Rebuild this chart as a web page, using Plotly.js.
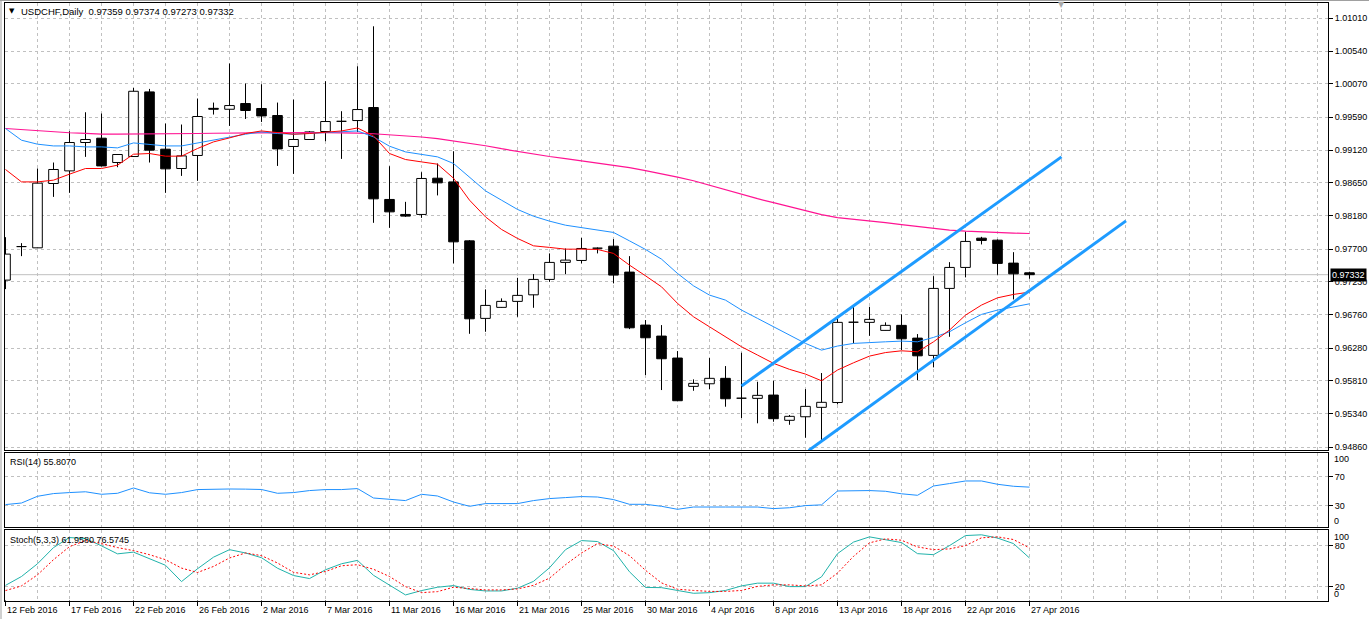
<!DOCTYPE html>
<html><head><meta charset="utf-8">
<script src="https://cdn.plot.ly/plotly-3.0.1.min.js"></script>
<style>html,body{margin:0;padding:0;background:#fff;}#chart{width:1369px;height:619px;}</style>
</head><body><div id="chart"></div>
<script>
// ---- data ----
const dates = ["12 Feb 2016","14 Feb 2016","15 Feb 2016","16 Feb 2016","17 Feb 2016","18 Feb 2016","19 Feb 2016","21 Feb 2016","22 Feb 2016","23 Feb 2016","24 Feb 2016","25 Feb 2016","26 Feb 2016","28 Feb 2016","29 Feb 2016",
"1 Mar 2016","2 Mar 2016","3 Mar 2016","4 Mar 2016","6 Mar 2016","7 Mar 2016","8 Mar 2016","9 Mar 2016","10 Mar 2016","11 Mar 2016","13 Mar 2016","14 Mar 2016","15 Mar 2016","16 Mar 2016","17 Mar 2016","18 Mar 2016","20 Mar 2016","21 Mar 2016","22 Mar 2016","23 Mar 2016","24 Mar 2016","25 Mar 2016","27 Mar 2016","28 Mar 2016","29 Mar 2016","30 Mar 2016","31 Mar 2016",
"1 Apr 2016","3 Apr 2016","4 Apr 2016","5 Apr 2016","6 Apr 2016","7 Apr 2016","8 Apr 2016","10 Apr 2016","11 Apr 2016","12 Apr 2016","13 Apr 2016","14 Apr 2016","15 Apr 2016","17 Apr 2016","18 Apr 2016","19 Apr 2016","20 Apr 2016","21 Apr 2016","22 Apr 2016","24 Apr 2016","25 Apr 2016","26 Apr 2016","27 Apr 2016"];

const open  = [0.97254,0.97735,0.97717,0.98640,0.98821,0.99228,0.99290,0.98941,0.99027,0.99954,0.99132,0.98855,0.99042,0.99718,0.99705,0.99787,0.99716,0.99615,0.99171,0.99271,0.99386,0.99532,0.99543,0.99730,0.98411,0.98196,0.98196,0.98716,0.98663,0.97817,0.96705,0.96863,0.96949,0.97043,0.97264,0.97508,0.97536,0.97712,0.97741,0.97369,0.96609,0.96451,0.96136,0.95730,0.95767,0.95845,0.95560,0.95558,0.95605,0.95243,0.95294,0.95429,0.95498,0.96650,0.96648,0.96533,0.96605,0.96422,0.96174,0.97135,0.97436,0.97856,0.97827,0.97498,0.97359];
const high  = [0.97870,0.97784,0.98855,0.98941,0.99390,0.99662,0.99644,0.99060,1.00011,0.99997,0.99500,0.99486,0.99859,0.99801,1.00361,1.00074,1.00064,0.99801,0.99844,0.99390,1.00107,0.99677,1.00322,1.00895,0.98888,0.98377,0.98802,0.98927,0.99103,0.97827,0.97121,0.96992,0.97287,0.97340,0.97637,0.97708,0.97860,0.97723,0.97842,0.97598,0.96681,0.96609,0.96236,0.95830,0.96136,0.96021,0.96212,0.95796,0.95810,0.95319,0.95691,0.95921,0.96728,0.96871,0.96871,0.96648,0.96762,0.96480,0.97311,0.97512,0.97947,0.97875,0.97837,0.97655,0.97374];
const low   = [0.97125,0.97598,0.97713,0.98448,0.98506,0.99022,0.98885,0.98874,0.99022,0.98941,0.98506,0.98749,0.98678,0.99629,0.99466,0.99566,0.99523,0.98892,0.98778,0.99265,0.99247,0.98993,0.99380,0.98076,0.98004,0.98161,0.98147,0.98469,0.97494,0.96484,0.96513,0.96860,0.96728,0.96857,0.97230,0.97340,0.97494,0.97637,0.97207,0.96551,0.95892,0.95677,0.95520,0.95667,0.95691,0.95438,0.95276,0.95200,0.95222,0.95179,0.94993,0.94960,0.95472,0.96347,0.96455,0.96533,0.96251,0.95820,0.96002,0.96441,0.97293,0.97766,0.97330,0.96977,0.97273];
const close = [0.97627,0.97728,0.98645,0.98841,0.99228,0.99271,0.98892,0.99056,0.99963,0.99118,0.98850,0.99036,0.99601,0.99705,0.99758,0.99687,0.99609,0.99136,0.99271,0.99380,0.99529,0.99526,0.99701,0.98420,0.98233,0.98172,0.98712,0.98649,0.97803,0.96699,0.96891,0.96949,0.97035,0.97264,0.97508,0.97541,0.97708,0.97702,0.97326,0.96570,0.96427,0.96126,0.95524,0.95773,0.95845,0.95552,0.95553,0.95601,0.95266,0.95300,0.95443,0.95501,0.96648,0.96646,0.96691,0.96605,0.96412,0.96168,0.97135,0.97436,0.97809,0.97823,0.97494,0.97344,0.97332];

const maFast = [0.98841,0.98663,0.98663,0.98688,0.98774,0.98855,0.98855,0.98903,0.99060,0.99070,0.99032,0.99032,0.99142,0.99237,0.99294,0.99357,0.99394,0.99366,0.99347,0.99357,0.99371,0.99394,0.99437,0.99323,0.99070,0.98984,0.98950,0.98917,0.98716,0.98401,0.98161,0.97981,0.97852,0.97746,0.97723,0.97698,0.97698,0.97694,0.97637,0.97469,0.97316,0.97158,0.96920,0.96728,0.96584,0.96441,0.96298,0.96179,0.96060,0.95974,0.95906,0.95810,0.95964,0.96068,0.96164,0.96215,0.96240,0.96226,0.96369,0.96537,0.96752,0.96896,0.97000,0.97049,0.97082];
const maMid  = [0.99429,0.99261,0.99204,0.99179,0.99179,0.99165,0.99165,0.99151,0.99222,0.99204,0.99179,0.99179,0.99222,0.99261,0.99300,0.99347,0.99380,0.99357,0.99347,0.99357,0.99366,0.99380,0.99394,0.99308,0.99175,0.99093,0.99060,0.99022,0.98927,0.98735,0.98534,0.98401,0.98268,0.98171,0.98100,0.98042,0.98009,0.97981,0.97938,0.97817,0.97694,0.97555,0.97350,0.97172,0.97039,0.96967,0.96824,0.96705,0.96584,0.96465,0.96346,0.96250,0.96308,0.96346,0.96361,0.96369,0.96379,0.96369,0.96432,0.96513,0.96642,0.96762,0.96824,0.96871,0.96914];
const maSlow = [0.99429,0.99411,0.99397,0.99383,0.99368,0.99358,0.99347,0.99347,0.99347,0.99350,0.99353,0.99354,0.99357,0.99361,0.99364,0.99367,0.99370,0.99371,0.99371,0.99371,0.99371,0.99371,0.99364,0.99354,0.99340,0.99328,0.99307,0.99285,0.99254,0.99218,0.99182,0.99139,0.99099,0.99060,0.99027,0.98996,0.98964,0.98936,0.98905,0.98867,0.98824,0.98781,0.98731,0.98680,0.98616,0.98551,0.98480,0.98422,0.98365,0.98308,0.98250,0.98193,0.98150,0.98128,0.98107,0.98078,0.98050,0.98021,0.97992,0.97971,0.97956,0.97945,0.97938,0.97928,0.97923];

const rsi = [31.4,33.6,43.0,46.8,48.2,49.3,45.8,47.2,54.6,47.9,45.8,48.2,52.4,53.2,53.2,53.0,52.5,47.2,48.2,51.0,52.4,52.4,53.8,40.6,38.4,37.0,45.8,43.4,35.0,29.0,32.8,32.8,32.8,37.0,39.8,41.2,42.6,42.0,38.4,31.8,31.8,29.0,24.8,28.0,28.5,28.0,28.0,28.0,25.8,27.0,30.0,31.0,50.4,51.0,51.0,50.0,46.5,44.4,57.4,60.8,64.4,64.4,59.8,57.0,55.8];
const stochMain = [22.2,35.1,53.6,77.1,91.7,90.2,79.6,68.0,70.5,61.3,51.4,27.7,46.3,63.2,74.1,69.3,62.4,47.1,36.5,32.1,44.9,53.6,58.5,36.8,22.2,8.3,14.6,19.5,21.9,16.3,14.1,14.1,18.1,28.0,47.8,74.1,87.3,85.9,72.7,41.9,19.2,18.9,14.8,10.7,11.6,14.8,21.4,25.4,25.4,20.4,20.4,34.6,68.3,85.1,92.7,88.5,84.4,68.3,66.8,80.0,94.6,95.7,91.0,82.9,61.96];
const stochSignal = [14.6,21.4,37.5,59.5,78.5,87.3,82.9,77.1,72.7,66.8,59.5,47.3,40.9,49.7,62.0,69.3,65.4,54.7,41.2,37.5,42.4,50.7,52.2,45.6,35.1,20.4,11.6,13.1,19.5,18.1,15.6,15.6,17.0,22.2,32.7,52.2,69.3,82.9,79.3,65.4,44.1,25.8,16.6,14.8,13.4,13.4,14.8,20.7,22.9,22.9,21.4,22.9,40.0,64.3,84.0,89.8,87.8,78.1,74.1,75.2,80.0,91.3,92.7,88.8,76.57];

const priceTicks = [1.01010,1.00540,1.00070,0.99590,0.99120,0.98650,0.98180,0.97700,0.97230,0.96760,0.96280,0.95810,0.95340,0.94860];
const rsiTicks = [30,70];
const stochTicks = [20,80];

// channel lines drawn on the chart (bar index, price)
const channelUpperX = [46.0, 66.0];
const channelUpperY = [0.95734, 0.99022];
const channelLowerX = [50.2, 70.03];
const channelLowerY = [0.94810, 0.98104];

const titleText = "USDCHF,Daily  0.97359 0.97374 0.97273 0.97332";
const rsiText = "RSI(14) 55.8070";
const stochText = "Stoch(5,3,3) 61.9580 76.5745";

// ---- build ----
const W = 1369, H = 619;
const n = dates.length;
const idx = dates.map((d, i) => i);
const hw = 0.3;
const wickX = [], wickY = [], upX = [], upY = [], dnX = [], dnY = [];
for (let i = 0; i < n; i++) {
  wickX.push(i, i, null); wickY.push(low[i], high[i], null);
  const bx = [i - hw, i + hw, i + hw, i - hw, i - hw, null];
  const by = [open[i], open[i], close[i], close[i], open[i], null];
  if (close[i] >= open[i]) { upX.push(...bx); upY.push(...by); }
  else { dnX.push(...bx); dnY.push(...by); }
}

const FONT = "'Liberation Sans', Arial, sans-serif";
const px2x = p => p / W, px2y = p => 1 - p / H;
const grid = {showgrid: true, gridcolor: '#C0C0C0', griddash: '3px,3px', gridwidth: 1, zeroline: false,
  showline: true, mirror: true, linecolor: '#000', linewidth: 1, fixedrange: true};
const evenBars = []; for (let b = 2; b <= 82; b += 2) evenBars.push(b);
const xr = [-0.0625, 82.656];
const xdom = [4.5 / W, 1328 / W];
const xax = a => Object.assign({domain: xdom, range: xr, anchor: a, tickvals: evenBars, showticklabels: false, ticks: ''}, grid);
const yTickFont = {family: FONT, size: 9, color: '#000'};

const traces = [
  {x: wickX, y: wickY, xaxis: 'x', yaxis: 'y', mode: 'lines', line: {color: '#000', width: 1}, hoverinfo: 'skip'},
  {x: upX, y: upY, xaxis: 'x', yaxis: 'y', mode: 'lines', fill: 'toself', fillcolor: '#fff', line: {color: '#000', width: 1}, hoverinfo: 'skip'},
  {x: dnX, y: dnY, xaxis: 'x', yaxis: 'y', mode: 'lines', fill: 'toself', fillcolor: '#000', line: {color: '#000', width: 1}, hoverinfo: 'skip'},
  {x: idx, y: maSlow, xaxis: 'x', yaxis: 'y', mode: 'lines', line: {color: '#FF1493', width: 1.2}},
  {x: idx, y: maMid, xaxis: 'x', yaxis: 'y', mode: 'lines', line: {color: '#1E90FF', width: 1}},
  {x: idx, y: maFast, xaxis: 'x', yaxis: 'y', mode: 'lines', line: {color: '#FF0000', width: 1}},
  {x: channelUpperX, y: channelUpperY, xaxis: 'x', yaxis: 'y', mode: 'lines', line: {color: '#1E9BFF', width: 3}},
  {x: channelLowerX, y: channelLowerY, xaxis: 'x', yaxis: 'y', mode: 'lines', line: {color: '#1E9BFF', width: 3}},
  {x: idx, y: rsi, xaxis: 'x2', yaxis: 'y2', mode: 'lines', line: {color: '#1E90FF', width: 1}},
  {x: idx, y: stochMain, xaxis: 'x3', yaxis: 'y3', mode: 'lines', line: {color: '#20B2AA', width: 1}},
  {x: idx, y: stochSignal, xaxis: 'x3', yaxis: 'y3', mode: 'lines', line: {color: '#FF0000', width: 1, dash: '2px,2px'}}
];

const annotations = [
  {xref: 'paper', yref: 'paper', x: px2x(7), y: px2y(11), text: '▼', showarrow: false, xanchor: 'left', yanchor: 'middle', font: {family: "'DejaVu Sans'", size: 7, color: '#000'}},
  {xref: 'paper', yref: 'paper', x: px2x(19), y: px2y(11), text: titleText, showarrow: false, xanchor: 'left', yanchor: 'middle', font: {family: FONT, size: 9.5, color: '#000'}},
  {xref: 'paper', yref: 'paper', x: px2x(8), y: px2y(462), text: rsiText, showarrow: false, xanchor: 'left', yanchor: 'middle', font: {family: FONT, size: 9, color: '#000'}},
  {xref: 'paper', yref: 'paper', x: px2x(8), y: px2y(539.5), text: stochText, showarrow: false, xanchor: 'left', yanchor: 'middle', font: {family: FONT, size: 9, color: '#000'}},
  {xref: 'paper', yref: 'paper', x: px2x(1061.7), y: px2y(5), text: '▼', showarrow: false, xanchor: 'center', yanchor: 'middle', font: {family: "'DejaVu Sans'", size: 8, color: '#A9A9A9'}},
  {xref: 'paper', yref: 'y', x: px2x(1330), y: close[n - 1], text: close[n - 1].toFixed(5), showarrow: false, xanchor: 'left', yanchor: 'middle', bgcolor: '#000', borderpad: 1, font: {family: FONT, size: 9, color: '#fff'}},
  {xref: 'paper', yref: 'paper', x: px2x(1332), y: px2y(459.3), text: '100', showarrow: false, xanchor: 'left', yanchor: 'middle', font: yTickFont},
  {xref: 'paper', yref: 'paper', x: px2x(1332), y: px2y(521), text: '0', showarrow: false, xanchor: 'left', yanchor: 'middle', font: yTickFont},
  {xref: 'paper', yref: 'paper', x: px2x(1332), y: px2y(537.3), text: '100', showarrow: false, xanchor: 'left', yanchor: 'middle', font: yTickFont},
  {xref: 'paper', yref: 'paper', x: px2x(1332), y: px2y(594.3), text: '0', showarrow: false, xanchor: 'left', yanchor: 'middle', font: yTickFont}
];
const shapes = [
  {type: 'line', xref: 'x domain', yref: 'y', x0: 0, x1: 1, y0: close[n - 1], y1: close[n - 1], line: {color: '#C0C0C0', width: 1}, layer: 'below'},
  {type: 'line', xref: 'paper', yref: 'paper', x0: 0, x1: 1, y0: px2y(0.5), y1: px2y(0.5), line: {color: '#A0A0A0', width: 1}},
  {type: 'line', xref: 'paper', yref: 'paper', x0: px2x(1), x1: px2x(1), y0: 0, y1: 1, line: {color: '#A0A0A0', width: 1}}
];
for (let i = 0; i < n; i += 4) {
  annotations.push({xref: 'x3', yref: 'paper', x: i, y: px2y(610), text: dates[i], showarrow: false, xanchor: 'left', yanchor: 'middle', xshift: -1, font: {family: FONT, size: 9, color: '#000'}});
  shapes.push({type: 'line', xref: 'x3', yref: 'paper', x0: i, x1: i, y0: px2y(600.5), y1: px2y(606), line: {color: '#000', width: 1}});
}

const ytick = {side: 'right', ticks: 'outside', ticklen: 4, tickcolor: '#000', tickwidth: 1, tickfont: yTickFont};
const layout = {
  width: W, height: H, margin: {l: 0, r: 0, t: 0, b: 0}, showlegend: false,
  paper_bgcolor: '#fff', plot_bgcolor: '#fff', hovermode: false,
  xaxis: xax('y'), xaxis2: xax('y2'), xaxis3: xax('y3'),
  yaxis: Object.assign({domain: [px2y(450), px2y(3.3)], range: [0.94817, 1.01225], tickvals: priceTicks,
    ticktext: priceTicks.map(v => v.toFixed(5))}, grid, ytick),
  yaxis2: Object.assign({domain: [px2y(527.3), px2y(453.3)], range: [-0.35, 103.1], tickvals: rsiTicks, ticktext: rsiTicks.map(String)}, grid, ytick),
  yaxis3: Object.assign({domain: [px2y(600.5), px2y(529.5)], range: [0.2, 103.4], tickvals: stochTicks, ticktext: stochTicks.map(String)}, grid, ytick),
  annotations: annotations, shapes: shapes
};
Plotly.newPlot('chart', traces, layout, {displayModeBar: false, staticPlot: true});
</script></body></html>
